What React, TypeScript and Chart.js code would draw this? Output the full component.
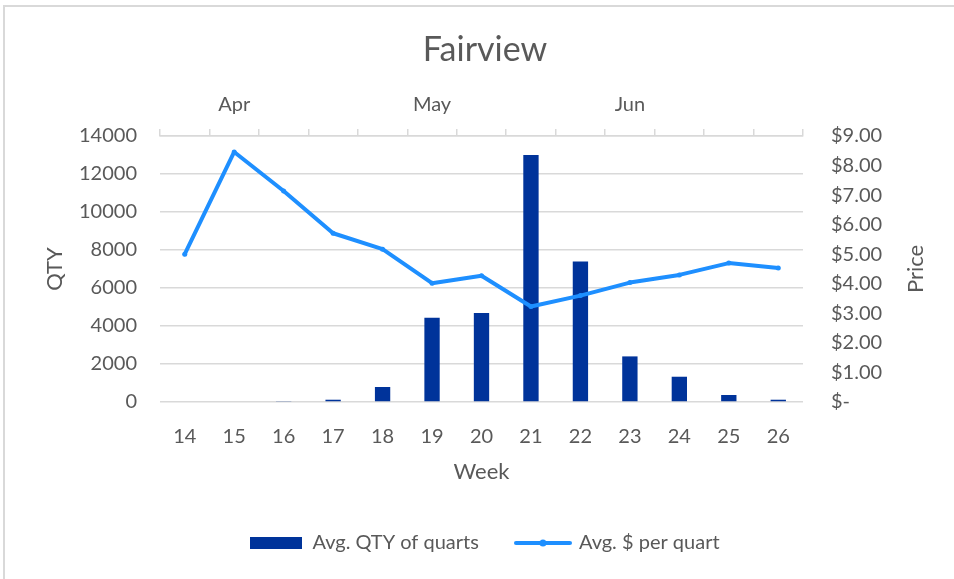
import React, { useEffect, useRef } from 'react';
import { Chart, registerables } from 'chart.js';

Chart.register(...registerables);

// ---- data ----
const weeks = ['14', '15', '16', '17', '18', '19', '20', '21', '22', '23', '24', '25', '26'];
const monthLabels = ['', 'Apr', '', '', '', 'May', '', '', '', 'Jun', '', '', ''];
const avgQty = [0, 0, 30, 120, 790, 4440, 4690, 13000, 7390, 2400, 1330, 370, 120];
const avgPrice = [5.0, 8.46, 7.14, 5.71, 5.17, 4.02, 4.27, 3.23, 3.6, 4.04, 4.3, 4.7, 4.53];
const qtyMax = 14000;
const qtyStep = 2000;
const priceMax = 9;
const priceStep = 1;

const TEXT = '#595959';
const GRID = '#d9d9d9';
const BAR = '#00339a';
const LINE = '#1e8fff';
const FONT = 'Lato';

function makeBarSwatch() {
  const c = document.createElement('canvas');
  c.width = 52;
  c.height = 12;
  const g = c.getContext('2d')!;
  g.fillStyle = BAR;
  g.fillRect(0, 0, 52, 12);
  return c;
}

function makeLineSwatch() {
  const c = document.createElement('canvas');
  c.width = 58;
  c.height = 12;
  const g = c.getContext('2d')!;
  g.strokeStyle = LINE;
  g.lineWidth = 4;
  g.lineCap = 'round';
  g.beginPath();
  g.moveTo(2, 6);
  g.lineTo(56, 6);
  g.stroke();
  g.fillStyle = LINE;
  g.beginPath();
  g.arc(29, 6, 3.5, 0, Math.PI * 2);
  g.fill();
  return c;
}

const rightTitle = {
  id: 'rightTitle',
  afterDraw(chart: any) {
    const s = chart.scales.y1;
    const ctx = chart.ctx;
    ctx.save();
    ctx.translate(s.right - 38, (s.top + s.bottom) / 2);
    ctx.rotate(-Math.PI / 2);
    ctx.font = `22px ${FONT}`;
    ctx.fillStyle = TEXT;
    ctx.textAlign = 'center';
    ctx.textBaseline = 'middle';
    ctx.fillText('Price', 0, 0);
    ctx.restore();
  },
};

export default function App() {
  const ref = useRef<HTMLCanvasElement | null>(null);

  useEffect(() => {
    document.body.style.margin = '0';
    const barSwatch = makeBarSwatch();
    const lineSwatch = makeLineSwatch();
    Chart.defaults.font.family = FONT;
    Chart.defaults.color = TEXT;

    const chart = new Chart(ref.current!, {
      type: 'bar',
      data: {
        labels: weeks,
        datasets: [
          {
            type: 'bar',
            label: 'Avg. QTY of quarts',
            data: avgQty,
            backgroundColor: BAR,
            borderWidth: 0,
            barPercentage: 0.31,
            categoryPercentage: 1,
            xAxisID: 'x',
            yAxisID: 'y',
            order: 2,
          },
          {
            type: 'line',
            label: 'Avg. $ per quart',
            data: avgPrice,
            borderColor: LINE,
            backgroundColor: LINE,
            borderWidth: 4,
            pointRadius: 2.5,
            pointBorderWidth: 0,
            pointBackgroundColor: LINE,
            borderJoinStyle: 'round',
            borderCapStyle: 'round',
            tension: 0,
            xAxisID: 'x',
            yAxisID: 'y1',
            order: 1,
          },
        ],
      } as any,
      options: {
        responsive: false,
        animation: false,
        layout: { padding: { top: 0, left: 16, right: 0, bottom: 16 } },
        plugins: {
          tooltip: { enabled: false },
          title: {
            display: true,
            text: 'Fairview',
            color: TEXT,
            font: { size: 34, weight: 'normal', family: FONT, lineHeight: 1.2 },
            padding: { top: 30, bottom: 0 },
          },
          legend: {
            display: true,
            position: 'bottom',
            labels: {
              usePointStyle: true,
              pointStyleWidth: 52,
              padding: 38,
              color: TEXT,
              font: { size: 20, family: FONT },
              sort: (a: any, b: any) => a.datasetIndex - b.datasetIndex,
              generateLabels(chart: any) {
                const items = Chart.defaults.plugins.legend.labels.generateLabels(chart);
                return items.map((it: any) => ({
                  ...it,
                  pointStyle: it.datasetIndex === 0 ? barSwatch : lineSwatch,
                }));
              },
            },
          },
        },
        scales: {
          x: {
            type: 'category',
            position: 'bottom',
            offset: true,
            grid: { display: false, drawTicks: false },
            border: { display: false },
            ticks: { padding: 23, font: { size: 20 }, color: TEXT, autoSkip: false, maxRotation: 0 },
            title: {
              display: true,
              text: 'Week',
              color: TEXT,
              font: { size: 22 },
              padding: { top: 0, bottom: 10 },
            },
            afterFit(s: any) {
              s.height = 93;
            },
          },
          xTop: {
            type: 'category',
            position: 'top',
            labels: monthLabels,
            offset: true,
            grid: {
              display: true,
              drawOnChartArea: false,
              drawTicks: true,
              tickLength: 7,
              offset: true,
              color: GRID,
              lineWidth: 1.5,
            },
            border: { display: true, color: GRID, width: 1.5 },
            ticks: { padding: 12, font: { size: 20 }, color: TEXT, autoSkip: false, maxRotation: 0 },
            afterFit(s: any) {
              s.height = 65.2;
            },
          },
          y: {
            type: 'linear',
            position: 'left',
            min: 0,
            max: qtyMax,
            grid: { color: GRID, lineWidth: 1.5, drawTicks: false },
            border: { display: false },
            ticks: {
              stepSize: qtyStep,
              padding: 23,
              font: { size: 20 },
              color: TEXT,
              callback: (v: any) => String(v),
            },
            title: {
              display: true,
              text: 'QTY',
              color: TEXT,
              font: { size: 22 },
              padding: { top: 26, bottom: 0 },
            },
            afterFit(s: any) {
              s.width = 144;
            },
          },
          y1: {
            type: 'linear',
            position: 'right',
            min: 0,
            max: priceMax,
            grid: { display: false, drawOnChartArea: false, drawTicks: false },
            border: { display: false },
            ticks: {
              stepSize: priceStep,
              padding: 28,
              font: { size: 20 },
              color: TEXT,
              callback: (v: any) => (Number(v) === 0 ? '$-' : '$' + Number(v).toFixed(2)),
            },
            afterFit(s: any) {
              s.width = 151;
            },
          },
        },
      } as any,
      plugins: [rightTitle],
    });
    return () => chart.destroy();
  }, []);

  return (
    <div style={{ position: 'relative', width: 954, height: 579, overflow: 'hidden', background: '#fff' }}>
      <div
        style={{
          position: 'absolute',
          left: 3,
          top: 5,
          width: 1000,
          height: 1000,
          borderLeft: `2px solid ${GRID}`,
          borderTop: `2px solid ${GRID}`,
        }}
      />
      <canvas ref={ref} width={954} height={579} style={{ position: 'absolute', left: 0, top: 0 }} />
    </div>
  );
}
